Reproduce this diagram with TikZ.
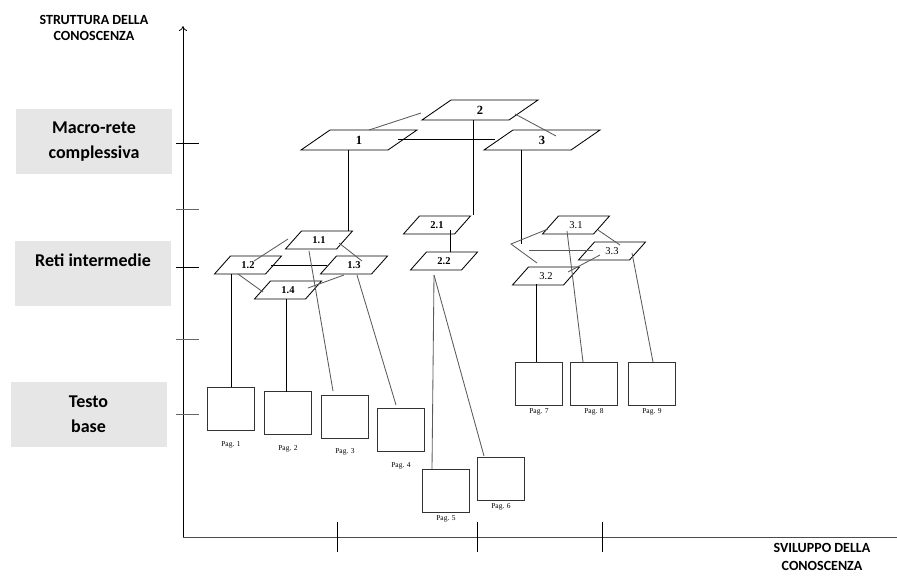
\documentclass[tikz,border=0pt]{standalone}
\usepackage{fontspec}
\setmainfont{Liberation Serif}
\newfontfamily\calibri{Carlito}
\usetikzlibrary{positioning, arrows.meta, shapes.geometric, calc}
\definecolor{lvlgray}{RGB}{231,230,230}
\definecolor{linkgray}{RGB}{90,90,90}

\begin{document}
\begin{tikzpicture}[
  x=1pt, y=-1pt,
  macro/.style={draw, trapezium, trapezium left angle=34.6, trapezium right angle=145.4,
                trapezium stretches body, minimum width=116pt, text height=8pt, text depth=0pt,
                inner xsep=0pt, inner ysep=6pt, font=\bfseries\fontsize{12.5}{13}\selectfont},
  sub/.style={draw, trapezium, trapezium left angle=48.4, trapezium right angle=131.6,
              trapezium stretches body, minimum width=67pt, text height=7pt, text depth=0pt,
              inner xsep=0pt, inner ysep=5.5pt, font=\bfseries\fontsize{10.5}{11}\selectfont},
  page/.style={draw=black!80, line width=0.8pt, minimum width=47pt, minimum height=43pt,
               inner sep=0pt},
  pagtxt/.style={inner sep=0pt, font=\fontsize{7.5}{8}\selectfont},
  lvl/.style={fill=lvlgray, minimum width=156pt, minimum height=65pt, align=center,
              font=\calibri\bfseries\fontsize{18}{25}\selectfont},
  axtxt/.style={align=center, font=\calibri\bfseries\fontsize{14}{16}\selectfont},
  conn/.style={line width=0.85pt},
  axtick/.style={line width=0.8pt},
]
  \useasboundingbox (0,0) rectangle (897,576);

  % level boxes on the left
  \node[lvl] (macro) at (94,141.5) {Macro-rete\\complessiva};
  \node[lvl] (reti) at (93,273) {Reti intermedie\\\mbox{}};
  \node[lvl] (testo) at (88.5,414) {Testo\\base};

  \node[axtxt] (yname) at (94,28) {STRUTTURA DELLA\\CONOSCENZA};
  \node[axtxt] (xname) at (822,557) {SVILUPPO DELLA\\[2pt]CONOSCENZA};

  % axes
  \coordinate (orig) at (183,537);
  \coordinate (ytop) at (183,26);
  \coordinate (xend) at (897,537);
  \draw[-{To[length=5pt,width=8pt]}, line width=0.8pt] (orig) -- (ytop);
  \draw[line width=1pt, black!70] (orig) -- (xend);
  \foreach \y/\c in {143/black, 209/black!60, 267/black, 339/black!60, 414/black!60}
    \draw[axtick, \c] (176,\y) -- (199,\y);
  \foreach \x in {337,477,602}
    \draw[axtick] (\x,522) -- (\x,552);

  % macro-rete
  \node[macro, conn] (n2) at (480,110) {2};
  \node[macro, conn] (n1) at (359,140) {1};
  \node[macro, conn] (n3) at (542,140) {3};

  % reti intermedie
  \node[sub, conn] (n11) at (319,240) {1.1};
  \node[sub, conn] (n12) at (248,265) {1.2};
  \node[sub, conn] (n13) at (354,265) {1.3};
  \node[sub, conn] (n14) at (288,290) {1.4};
  \node[sub, conn] (n21) at (437,225) {2.1};
  \node[sub, conn] (n22) at (444,261) {2.2};
  \node[sub, conn, font=\fontsize{10.5}{11}\selectfont] (n31) at (576,225) {3.1};
  \node[sub, conn, font=\fontsize{10.5}{11}\selectfont] (n32) at (546,276) {3.2};
  \node[sub, conn, font=\fontsize{10.5}{11}\selectfont] (n33) at (612,251) {3.3};

  % testo base
  \node[page] (pag1) at (231,409) {};
  \node[page] (pag2) at (288,413) {};
  \node[page] (pag3) at (345,417) {};
  \node[page] (pag4) at (401,430) {};
  \node[page] (pag5) at (446,491) {};
  \node[page] (pag6) at (501,479) {};
  \node[page] (pag7) at (539,384) {};
  \node[page] (pag8) at (594,384) {};
  \node[page] (pag9) at (652,384) {};
  \node[pagtxt, below=10pt of pag1] (t1) {Pag. 1};
  \node[pagtxt, below=10pt of pag2] (t2) {Pag. 2};
  \node[pagtxt, below=9pt of pag3] (t3) {Pag. 3};
  \node[pagtxt, below=10pt of pag4] (t4) {Pag. 4};
  \foreach \i in {5,...,9}
    \node[pagtxt, below=2pt of pag\i] (t\i) {Pag. \i};

  % links between the nets
  \draw[conn, linkgray] ($(n1)+(10,-10)$) -- ($(n2)+(-59,3)$);
  \draw[conn, linkgray] ($(n2)+(35,4)$) -- ($(n3)+(14,-4)$);
  \draw[conn] ($(n1)+(39,-1)$) -- ($(n3)+(-47,-1)$);
  \draw[conn] ($(n1)+(-11,10)$) -- ($(n11)+(29,-9)$);
  \draw[conn] ($(n2)+(-7,10)$) -- ($(n21)+(36,-10)$);
  \coordinate (k3) at (521,244);
  \coordinate (v3) at (511,244);
  \draw[conn] ($(n3)+(-21,10)$) -- (k3);

  \draw[conn, linkgray] ($(n11)+(-31,-1)$) -- ($(n12)+(6,-4)$);
  \draw[conn, linkgray] ($(n11)+(20,3)$) -- ($(n13)+(8,-4)$);
  \draw[conn] ($(n12)+(23,0)$) -- ($(n13)+(-27,0)$);
  \draw[conn, linkgray] ($(n12)+(-10,9)$) -- ($(n14)+(-25,2)$);
  \draw[conn, linkgray] ($(n14)+(20,-2)$) -- ($(n13)+(-10,10)$);
  \draw[conn] ($(n21)+(13,5)$) -- ($(n22)+(6,-9)$);
  \draw[conn, linkgray] ($(n31)+(-28,4)$) -- (v3) -- ($(n32)+(-9,-13)$);
  \draw[conn, linkgray] ($(v3)+(18,6)$) -- ($(n33)+(-19,-1)$);
  \draw[conn, linkgray] ($(n31)+(22,5)$) -- ($(n33)+(8,-6)$);
  \draw[conn, linkgray] ($(n32)+(22,-4)$) -- ($(n33)+(-12,4)$);

  % links down to the pages
  \draw[conn] ($(n12)+(-17,9)$) -- ($(pag1)+(0,-22)$);
  \draw[conn] ($(n14)+(-2,9)$) -- ($(pag2)+(-2,-21)$);
  \draw[conn, linkgray] ($(n11)+(-10,11)$) -- ($(pag3)+(-12,-26)$);
  \draw[conn, linkgray] ($(n13)+(3,10)$) -- ($(pag4)+(-5,-25)$);
  \draw[conn, linkgray] ($(n22)+(-10,14)$) -- ($(pag5)+(-14,-22)$);
  \draw[conn, linkgray] ($(n22)+(-10,14)$) -- ($(pag6)+(-17,-23)$);
  \draw[conn] ($(n32)+(-10,8)$) -- ($(pag7)+(-3,-22)$);
  \draw[conn, linkgray] ($(n31)+(-9,6)$) -- ($(pag8)+(-11,-22)$);
  \draw[conn, linkgray] ($(n33)+(20,2)$) -- ($(pag9)+(1,-22)$);
\end{tikzpicture}
\end{document}
